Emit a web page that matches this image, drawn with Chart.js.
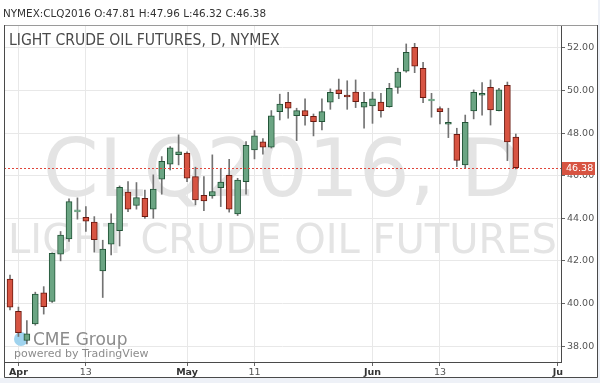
<!DOCTYPE html>
<html><head><meta charset="utf-8">
<script src="https://cdn.jsdelivr.net/npm/chart.js@4.4.0/dist/chart.umd.min.js"></script>
<style>html,body{margin:0;padding:0;background:#fff;}canvas{display:block}</style>
</head><body>
<canvas id="c" width="600" height="383"></canvas>
<script>
const OPEN  = [41.14,39.63,38.26,39.04,40.50,40.09,42.31,43.03,44.30,44.05,43.82,41.53,42.78,43.42,45.23,44.60,44.94,44.43,45.84,46.54,46.99,47.06,45.96,45.08,45.05,45.44,46.02,44.21,45.72,47.21,47.59,47.34,49.01,49.45,48.82,49.06,48.79,48.54,49.45,50.03,49.73,49.93,49.22,49.28,49.46,49.24,50.15,50.91,52.03,51.05,49.51,49.15,48.42,47.95,46.51,49.04,49.78,50.15,49.06,50.25,47.81];
const HIGH  = [41.33,39.83,39.20,40.53,40.79,42.38,43.38,44.91,44.96,44.55,44.08,42.97,44.21,45.52,45.72,45.68,45.33,46.04,46.90,47.37,47.92,47.12,46.40,45.96,46.98,46.35,46.77,45.88,47.60,48.12,47.74,49.06,49.83,49.92,49.17,49.61,48.90,49.61,50.08,50.54,50.46,50.50,49.92,49.92,49.87,50.34,51.05,52.19,52.22,51.33,49.87,49.24,49.17,48.23,48.85,50.03,50.37,50.50,50.11,50.40,47.96];
const LOW   = [39.70,38.45,38.10,38.98,39.50,40.05,42.00,42.91,43.96,43.38,42.41,40.28,42.28,42.70,44.31,44.43,44.00,44.00,45.13,46.27,46.51,45.72,44.63,44.36,44.94,44.55,44.29,44.13,45.13,46.79,47.01,47.30,48.62,48.70,47.65,48.38,47.87,48.15,49.12,49.62,49.12,49.20,48.23,48.46,48.75,49.22,49.87,50.86,50.84,49.43,48.75,48.43,47.79,46.43,46.35,48.67,48.85,48.38,49.04,46.71,46.32];
const CLOSE = [39.83,38.63,38.57,40.44,39.85,42.36,43.21,44.78,44.30,43.86,43.00,42.56,43.78,45.46,44.43,44.97,44.08,45.37,46.68,47.31,47.12,45.88,44.86,44.82,45.26,45.70,44.43,45.80,47.43,47.87,47.34,48.81,49.37,49.17,49.06,48.82,48.54,49.01,49.92,49.85,49.70,49.48,49.45,49.61,49.06,50.11,50.87,51.80,51.15,49.67,49.51,49.01,48.45,46.72,48.51,49.92,49.81,49.09,50.04,47.59,46.38];
const X_TICKS  = [1, 9, 21, 29, 43, 51, 65];
const X_LABELS = ['Apr', '13', 'May', '11', 'Jun', '13', 'Ju'];
const MONTH_LABELS = ['Apr', 'May', 'Jun', 'Ju'];
const Y_TICKS  = [38, 40, 42, 44, 46, 48, 50, 52];
const SYMBOL = 'NYMEX:CLQ2016';
const TITLE = 'LIGHT CRUDE OIL FUTURES, D, NYMEX';
const WM_BIG = 'CLQ2016, D';
const WM_SMALL = 'LIGHT CRUDE OIL FUTURES';

const last = CLOSE.length - 1;
const HEADER = SYMBOL + ' O:' + OPEN[last].toFixed(2) + ' H:' + HIGH[last].toFixed(2) +
               ' L:' + LOW[last].toFixed(2) + ' C:' + CLOSE[last].toFixed(2);

const GREEN = '#6ba583', GREEN_D = '#225437', RED = '#d75442', RED_D = '#6b1a10', WICK = '#737373';
const FONT = '"DejaVu Sans", sans-serif';
Chart.defaults.font.family = FONT;

const isUp = i => CLOSE[i] >= OPEN[i];

const decor = {
  id: 'decor',
  beforeDatasetsDraw(chart) {
    const {ctx, chartArea: a} = chart;
    ctx.save();
    ctx.beginPath(); ctx.rect(a.left, a.top, a.right - a.left, a.bottom - a.top); ctx.clip();
    const cx = (a.left + a.right) / 2;
    ctx.fillStyle = '#e4e4e4';
    ctx.textAlign = 'center'; ctx.textBaseline = 'alphabetic';
    ctx.font = '80px ' + FONT;
    ctx.fillText(WM_BIG, cx, 196);
    ctx.font = '40px ' + FONT;
    ctx.fillText(WM_SMALL, cx, 253);
    // title
    ctx.textAlign = 'left';
    ctx.fillStyle = '#4a4a4a';
    ctx.font = '15.6px "DejaVu Sans Condensed", ' + FONT;
    ctx.fillText(TITLE, 9, 45);
    // CME logo
    ctx.fillStyle = '#9fd3ee';
    ctx.beginPath(); ctx.arc(21, 339, 7, 0, Math.PI * 2); ctx.fill();
    ctx.fillStyle = '#8c8c8c';
    ctx.font = '17px ' + FONT;
    ctx.fillText('CME Group', 33, 345);
    ctx.font = '11px ' + FONT;
    ctx.fillText('powered by TradingView', 14, 357);
    ctx.restore();
  },
  afterDatasetsDraw(chart) {
    const {ctx, chartArea: a, scales: {y}} = chart;
    const py = Math.round(y.getPixelForValue(CLOSE[last])) + 0.5;
    ctx.save();
    ctx.strokeStyle = '#e0453a'; ctx.lineWidth = 1; ctx.setLineDash([2, 2]);
    ctx.beginPath(); ctx.moveTo(a.left, py); ctx.lineTo(a.right, py); ctx.stroke();
    ctx.restore();
  },
  afterDraw(chart) {
    const {ctx, chartArea: a, scales: {y}} = chart;
    const py = Math.round(y.getPixelForValue(CLOSE[last]));
    ctx.save();
    // price label
    ctx.fillStyle = '#d75442';
    ctx.fillRect(a.right + 1, py - 6, 33, 13);
    ctx.fillStyle = '#fff';
    ctx.font = '9.5px ' + FONT; ctx.textBaseline = 'middle'; ctx.textAlign = 'left';
    ctx.fillText(CLOSE[last].toFixed(2), a.right + 5, py + 0.5);
    // header
    ctx.fillStyle = '#333';
    ctx.font = '10.4px ' + FONT; ctx.textBaseline = 'alphabetic';
    ctx.fillText(HEADER, 3, 17);
    // outside strip
    ctx.fillStyle = '#eef1f7';
    ctx.fillRect(0, 378, 600, 5);
    ctx.fillRect(598, 0, 2, 383);
    // frame
    ctx.strokeStyle = '#9a9a9a'; ctx.lineWidth = 1;
    ctx.beginPath(); ctx.moveTo(4, 25.5); ctx.lineTo(598, 25.5); ctx.stroke();
    ctx.strokeStyle = '#4a4a4a';
    ctx.beginPath();
    ctx.moveTo(4.5, 25); ctx.lineTo(4.5, 377.5); ctx.lineTo(597.5, 377.5); ctx.lineTo(597.5, 25);
    ctx.stroke();
    ctx.restore();
  }
};

new Chart(document.getElementById('c'), {
  type: 'bar',
  data: {
    datasets: [
      {
        label: 'body',
        data: OPEN.map((o, i) => ({x: i, y: [o, CLOSE[i]]})),
        barThickness: 6, grouped: false, borderWidth: 1, borderSkipped: false, minBarLength: 2,
        backgroundColor: c => isUp(c.dataIndex) ? GREEN : RED,
        borderColor: c => {
          const i = c.dataIndex;
          if (OPEN[i] === CLOSE[i]) return GREEN;
          return isUp(i) ? GREEN_D : RED_D;
        },
        order: 0
      },
      {
        label: 'wick',
        data: LOW.map((l, i) => ({x: i, y: [l, HIGH[i]]})),
        barThickness: 1, grouped: false, borderWidth: 0,
        backgroundColor: WICK,
        order: 1
      }
    ]
  },
  options: {
    responsive: false, animation: false, devicePixelRatio: 1,
    layout: {padding: {left: 4, top: 25, right: 0, bottom: 0}},
    plugins: {legend: {display: false}, tooltip: {enabled: false}},
    scales: {
      x: {
        type: 'linear', min: -0.712, max: 65.36, offset: false,
        afterBuildTicks: s => { s.ticks = X_TICKS.map(v => ({value: v})); },
        afterFit: s => { s.height = 21; },
        ticks: {
          autoSkip: false, maxRotation: 0, padding: 1,
          callback: (v, i) => X_LABELS[i],
          color: c => MONTH_LABELS.includes(X_LABELS[c.index]) ? '#333' : '#555',
          font: c => ({size: 9.5, weight: MONTH_LABELS.includes(X_LABELS[c.index]) ? 'bold' : 'normal'})
        },
        grid: {color: '#e8e8e8', offset: false, tickLength: 4, tickColor: '#666'},
        border: {color: '#4a4a4a'}
      },
      y: {
        position: 'right', min: 37.25, max: 53.08,
        afterBuildTicks: s => { s.ticks = Y_TICKS.map(v => ({value: v})); },
        afterFit: s => { s.width = 39; },
        ticks: {padding: 2, color: '#555', font: {size: 9.5}, callback: v => v.toFixed(2)},
        grid: {color: '#e8e8e8', tickLength: 4, tickColor: '#666'},
        border: {color: '#4a4a4a'}
      }
    }
  },
  plugins: [decor]
});
</script>
</body></html>
